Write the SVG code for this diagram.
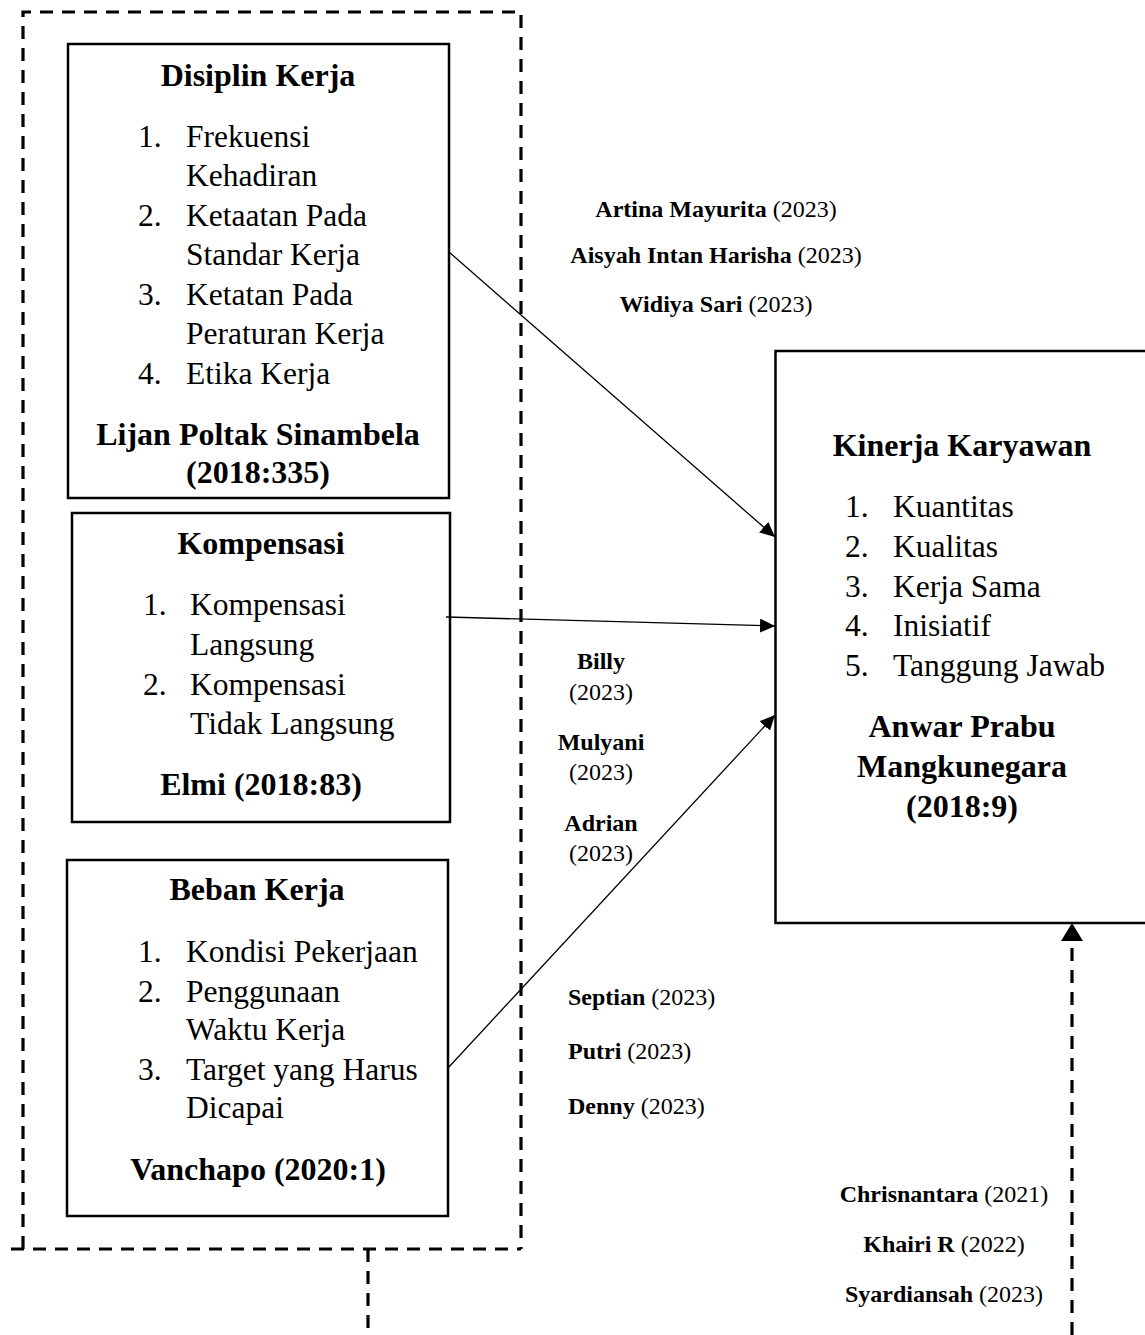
<svg xmlns="http://www.w3.org/2000/svg" width="1145" height="1335" viewBox="0 0 1145 1335">
<defs>
<style>
.t{font-family:"Liberation Serif","Times New Roman",serif;font-size:31.5px;fill:#000}
.b{font-family:"Liberation Serif","Times New Roman",serif;font-size:32px;font-weight:bold;fill:#000}
.s{font-family:"Liberation Serif","Times New Roman",serif;font-size:24px;fill:#000}
.s .n{font-weight:bold}
.box{fill:#fff;stroke:#000;stroke-width:2.5}
.dash{fill:none;stroke:#000;stroke-width:3.2;stroke-dasharray:13 9}
.conn{fill:none;stroke:#000;stroke-width:1.3}
</style>
<marker id="ah" markerUnits="userSpaceOnUse" markerWidth="16" markerHeight="14" refX="15" refY="7" orient="auto"><path d="M0,0 L15,7 L0,14 z" fill="#000"/></marker>
<marker id="ah2" markerUnits="userSpaceOnUse" markerWidth="19" markerHeight="22" refX="18" refY="11" orient="auto"><path d="M0,0 L18,11 L0,22 z" fill="#000"/></marker>
</defs>
<rect width="1145" height="1335" fill="#fff"/>

<g id="group-frame">
<path class="dash" d="M23,1249 L23,12 L521,12 L521,1249"/>
<path class="dash" d="M11,1249 L521,1249"/>
<path class="dash" d="M368,1249 L368,1335"/>
</g>

<g id="node-disiplin">
<rect class="box" x="68" y="44" width="381" height="454"/>
<text class="b" x="258" y="86" text-anchor="middle">Disiplin Kerja</text>
<text class="t" x="138" y="147">1.</text><text class="t" x="186" y="147">Frekuensi</text>
<text class="t" x="186" y="186">Kehadiran</text>
<text class="t" x="138" y="226">2.</text><text class="t" x="186" y="226">Ketaatan Pada</text>
<text class="t" x="186" y="265">Standar Kerja</text>
<text class="t" x="138" y="305">3.</text><text class="t" x="186" y="305">Ketatan Pada</text>
<text class="t" x="186" y="344">Peraturan Kerja</text>
<text class="t" x="138" y="384">4.</text><text class="t" x="186" y="384">Etika Kerja</text>
<text class="b" x="258" y="445" text-anchor="middle">Lijan Poltak Sinambela</text>
<text class="b" x="258" y="483" text-anchor="middle">(2018:335)</text>
</g>

<g id="node-kompensasi">
<rect class="box" x="72" y="513" width="378" height="309"/>
<text class="b" x="261" y="554" text-anchor="middle">Kompensasi</text>
<text class="t" x="143" y="615">1.</text><text class="t" x="190" y="615">Kompensasi</text>
<text class="t" x="190" y="655">Langsung</text>
<text class="t" x="143" y="695">2.</text><text class="t" x="190" y="695">Kompensasi</text>
<text class="t" x="190" y="734">Tidak Langsung</text>
<text class="b" x="261" y="795" text-anchor="middle">Elmi (2018:83)</text>
</g>

<g id="node-beban">
<rect class="box" x="67" y="860" width="381" height="356"/>
<text class="b" x="257" y="900" text-anchor="middle">Beban Kerja</text>
<text class="t" x="138" y="962">1.</text><text class="t" x="186" y="962">Kondisi Pekerjaan</text>
<text class="t" x="138" y="1002">2.</text><text class="t" x="186" y="1002">Penggunaan</text>
<text class="t" x="186" y="1040">Waktu Kerja</text>
<text class="t" x="138" y="1080">3.</text><text class="t" x="186" y="1080">Target yang Harus</text>
<text class="t" x="186" y="1118">Dicapai</text>
<text class="b" x="258" y="1180" text-anchor="middle">Vanchapo (2020:1)</text>
</g>

<g id="node-kinerja">
<rect class="box" x="775.5" y="351" width="400" height="572"/>
<text class="b" x="962" y="456" text-anchor="middle">Kinerja Karyawan</text>
<text class="t" x="845" y="517">1.</text><text class="t" x="893" y="517">Kuantitas</text>
<text class="t" x="845" y="557">2.</text><text class="t" x="893" y="557">Kualitas</text>
<text class="t" x="845" y="597">3.</text><text class="t" x="893" y="597">Kerja Sama</text>
<text class="t" x="845" y="636">4.</text><text class="t" x="893" y="636">Inisiatif</text>
<text class="t" x="845" y="676">5.</text><text class="t" x="893" y="676">Tanggung Jawab</text>
<text class="b" x="962" y="737" text-anchor="middle">Anwar Prabu</text>
<text class="b" x="962" y="777" text-anchor="middle">Mangkunegara</text>
<text class="b" x="962" y="817" text-anchor="middle">(2018:9)</text>
</g>

<g id="connectors">
<line class="conn" x1="449" y1="252" x2="775" y2="537" marker-end="url(#ah)"/>
<line class="conn" x1="446" y1="617" x2="775" y2="626" marker-end="url(#ah)"/>
<line class="conn" x1="448" y1="1068" x2="775" y2="715" marker-end="url(#ah)"/>
<line class="dash" x1="1072" y1="1335" x2="1072" y2="923" marker-end="url(#ah2)"/>
</g>

<g id="labels-disiplin">
<text class="s" x="716" y="217" text-anchor="middle"><tspan class="n">Artina Mayurita</tspan> (2023)</text>
<text class="s" x="716" y="263" text-anchor="middle"><tspan class="n">Aisyah Intan Harisha</tspan> (2023)</text>
<text class="s" x="716" y="312" text-anchor="middle"><tspan class="n">Widiya Sari</tspan> (2023)</text>
</g>

<g id="labels-kompensasi">
<text class="s" x="601" y="669" text-anchor="middle"><tspan class="n">Billy</tspan></text>
<text class="s" x="601" y="700" text-anchor="middle">(2023)</text>
<text class="s" x="601" y="750" text-anchor="middle"><tspan class="n">Mulyani</tspan></text>
<text class="s" x="601" y="780" text-anchor="middle">(2023)</text>
<text class="s" x="601" y="831" text-anchor="middle"><tspan class="n">Adrian</tspan></text>
<text class="s" x="601" y="861" text-anchor="middle">(2023)</text>
</g>

<g id="labels-beban">
<text class="s" x="568" y="1005"><tspan class="n">Septian</tspan> (2023)</text>
<text class="s" x="568" y="1059"><tspan class="n">Putri</tspan> (2023)</text>
<text class="s" x="568" y="1114"><tspan class="n">Denny</tspan> (2023)</text>
</g>

<g id="labels-simultan">
<text class="s" x="944" y="1202" text-anchor="middle"><tspan class="n">Chrisnantara</tspan> (2021)</text>
<text class="s" x="944" y="1252" text-anchor="middle"><tspan class="n">Khairi R</tspan> (2022)</text>
<text class="s" x="944" y="1302" text-anchor="middle"><tspan class="n">Syardiansah</tspan> (2023)</text>
</g>
</svg>
